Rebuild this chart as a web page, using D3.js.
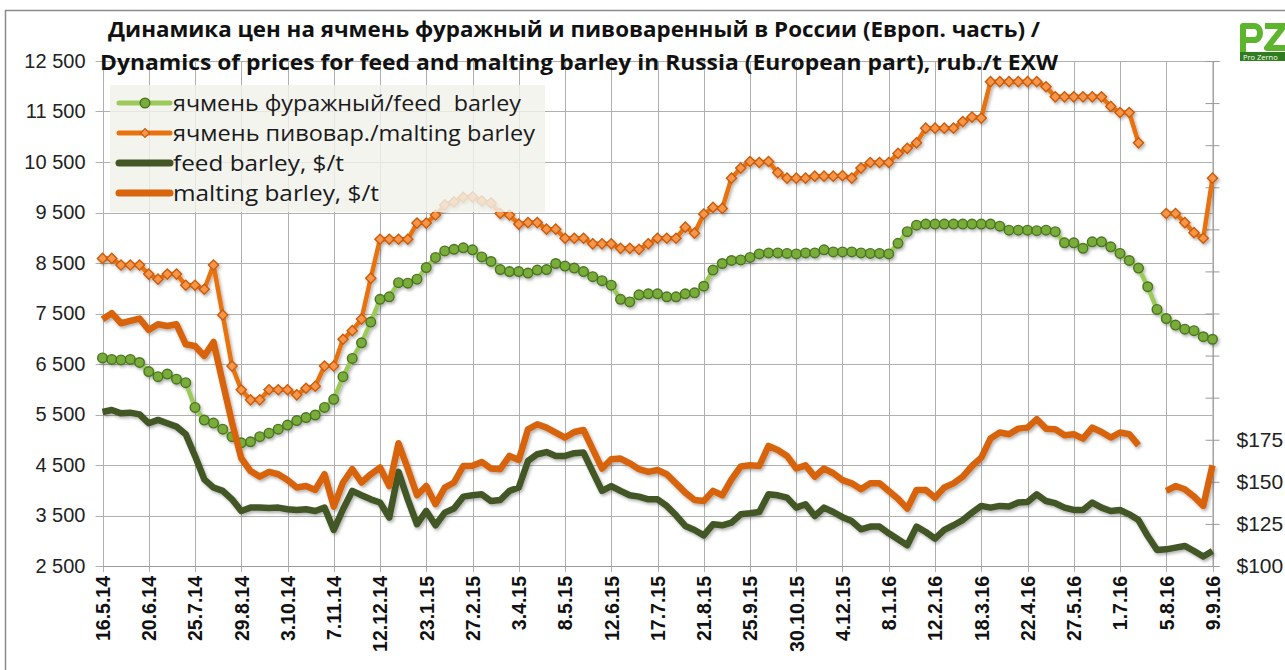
<!DOCTYPE html>
<html>
<head>
<meta charset="utf-8">
<script src="https://cdn.jsdelivr.net/npm/d3@7"></script>
<style>
  body { margin: 0; background: #fff; }
  svg { display: block; font-family: "Open Sans", sans-serif; }
</style>
</head>
<body>
<div id="chart"></div>
<script>
// x axis labels (every 5th week shown)
const tickLabels = ["16.5.14", "20.6.14", "25.7.14", "29.8.14", "3.10.14", "7.11.14", "12.12.14",
  "23.1.15", "27.2.15", "3.4.15", "8.5.15", "12.6.15", "17.7.15", "21.8.15", "25.9.15", "30.10.15",
  "4.12.15", "8.1.16", "12.2.16", "18.3.16", "22.4.16", "27.5.16", "1.7.16", "5.8.16", "9.9.16"];

// rub./t, weekly
const feedRub = [
  6620, 6590, 6580, 6590, 6530, 6350, 6250, 6300, 6200, 6130,
  5640, 5390, 5330, 5210, 5060, 4940, 4960, 5060, 5130, 5210,
  5290, 5380, 5440, 5490, 5640, 5800, 6250, 6610, 6920, 7330,
  7780, 7830, 8110, 8100, 8180, 8410, 8610, 8740, 8770, 8800,
  8760, 8620, 8530, 8370, 8330, 8330, 8300, 8360, 8370, 8490,
  8440, 8400, 8330, 8230, 8150, 8060, 7780, 7730, 7870, 7890,
  7890, 7830, 7830, 7890, 7910, 8040, 8360, 8490, 8550, 8560,
  8610, 8680, 8700, 8700, 8690, 8680, 8700, 8700, 8760, 8720,
  8720, 8720, 8700, 8690, 8690, 8680, 8890, 9120, 9250, 9270,
  9270, 9270, 9270, 9270, 9270, 9270, 9270, 9230, 9150, 9150,
  9150, 9140, 9150, 9120, 8900, 8900, 8790, 8920, 8920, 8820,
  8690, 8550, 8400, 8030, 7580, 7400, 7270, 7190, 7160, 7040, 6990];

const maltRub = [
  8590, 8590, 8460, 8460, 8460, 8280, 8180, 8280, 8280, 8060,
  8060, 7980, 8460, 7470, 6460, 5990, 5790, 5790, 5990, 5990,
  5990, 5890, 6020, 6060, 6460, 6460, 6990, 7160, 7390, 8200,
  8970, 8970, 8970, 8970, 9290, 9290, 9450, 9650, 9710, 9800,
  9810, 9730, 9690, 9480, 9450, 9270, 9300, 9300, 9170, 9170,
  8990, 8990, 8990, 8880, 8880, 8880, 8790, 8790, 8770, 8880,
  8990, 8990, 8990, 9210, 9090, 9470, 9600, 9580, 10180, 10380,
  10510, 10490, 10510, 10290, 10180, 10180, 10180, 10220, 10220, 10220,
  10230, 10180, 10380, 10490, 10490, 10490, 10670, 10770, 10880, 11170,
  11170, 11170, 11170, 11300, 11390, 11370, 12090, 12090, 12090, 12090,
  12090, 12090, 11990, 11790, 11790, 11790, 11790, 11790, 11790, 11600,
  11480, 11480, 10880, null, null, 9480, 9480, 9300, 9100, 8990, 10180];

// $/t, weekly (right axis)
const feedUsd = [
  191.5, 192.7, 190.7, 191.1, 190.1, 184.8, 186.8, 184.8, 182.8, 178.3,
  165.4, 151.5, 146.6, 144.6, 139.6, 132.7, 134.7, 134.7, 134.5, 134.7,
  133.7, 133.3, 133.7, 132.7, 134.7, 121.4, 133.7, 144.6, 142, 139.6,
  137.7, 128.8, 155.9, 139.6, 124.8, 132.7, 124.2, 131.7, 134.1, 141.2,
  142, 142.6, 138.6, 139.2, 144.6, 146.6, 162.4, 166.4, 167.7, 165.4,
  165.4, 167, 167.4, 155.9, 144.6, 147.5, 144.6, 142, 141.2, 139.6,
  139.6, 135.7, 130.1, 123.8, 121.4, 118.2, 124.8, 124.2, 125.8, 130.7,
  131.3, 132.1, 142.6, 142, 140.6, 134.7, 136.7, 129.7, 134.7, 132.1,
  129, 126.7, 121.8, 123.4, 123.4, 119.4, 115.9, 112.3, 123.4, 120.2,
  116.3, 121.4, 124.2, 127.3, 131.7, 135.7, 134.7, 135.7, 135.3, 137.7,
  138, 142.6, 138.6, 137.3, 134.7, 133.3, 133.3, 137.7, 134.7, 132.7,
  133.3, 130.7, 127.3, 117.8, 109.5, 109.9, 110.9, 111.9, 108.9, 105.6, 108.9];

const maltUsd = [
  246.6, 250.2, 244.2, 245.6, 247, 240.2, 243.6, 242.6, 243.6, 231.7,
  230.7, 224.8, 233.1, 209, 185.2, 164, 156.4, 153.1, 155.9, 154.5,
  151.1, 146.6, 147.5, 145.2, 154.5, 135.3, 149.6, 157.5, 149.6, 154.5,
  158.5, 147.5, 172.9, 157.9, 142, 147.5, 136.7, 146.6, 149.6, 159.4,
  159.5, 161.8, 157.9, 157.5, 165.4, 163, 181.2, 184.2, 182.2, 179.3,
  176.3, 179.6, 180.8, 169.3, 157.9, 163.4, 163.8, 161, 157.5, 155.9,
  157, 154.5, 149.1, 143.6, 139.2, 138.6, 144.6, 142, 151.5, 159.1,
  159.8, 159.4, 171.3, 168.9, 165.4, 157.9, 159.8, 153.1, 157.9, 155.1,
  151, 149.1, 145.6, 149.1, 149.1, 144.6, 140, 134.1, 145.2, 145.2,
  140.6, 146.6, 149.1, 153.1, 159.4, 164.4, 175.7, 179.3, 178.3, 181.6,
  182.2, 187.2, 181.6, 181.2, 177.7, 178.3, 175.7, 182.2, 179.6, 176.3,
  179.3, 178.3, 171.7, null, null, 144.6, 147.5, 145.6, 141.2, 135.7, 159.8];

const seriesNames = ["ячмень фуражный/feed  barley", "ячмень пивовар./malting barley",
  "feed barley, $/t", "malting barley, $/t"];

const width = 1285, height = 670;
const plot = { left: 102.5, right: 1212.5, top: 61, bottom: 566 };

const svg = d3.select("#chart").append("svg")
  .attr("width", width).attr("height", height);

const defs = svg.append("defs");
const shadow = defs.append("filter").attr("id", "shadow")
  .attr("x", "-10%").attr("y", "-10%").attr("width", "120%").attr("height", "130%");
shadow.append("feDropShadow").attr("dx", 1.5).attr("dy", 2).attr("stdDeviation", 1.4)
  .attr("flood-color", "#000").attr("flood-opacity", 0.3);

// outer frame of the chart
svg.append("rect").attr("x", 5.5).attr("y", 10.5).attr("width", 1400).attr("height", 800)
  .attr("fill", "none").attr("stroke", "#8a8a8a").attr("stroke-width", 1.5);

const x = d3.scaleLinear().domain([0, feedRub.length - 1]).range([plot.left, plot.right]);
const y = d3.scaleLinear().domain([2500, 12500]).range([plot.bottom, plot.top]);
const yUsd = d3.scaleLinear().domain([100, 400]).range([plot.bottom, plot.top]);

const ru = d3.formatLocale({ decimal: ",", thousands: " ", grouping: [3], currency: ["", ""] });
const rubTicks = d3.range(2500, 12501, 1000);
const weekTicks = d3.range(0, feedRub.length, 5);

// grid
const grid = svg.append("g").attr("stroke", "#b0b0b0").attr("stroke-width", 1);
grid.selectAll(".h").data(rubTicks).join("line")
  .attr("x1", plot.left - 7).attr("x2", plot.right)
  .attr("y1", d => Math.round(y(d)) + 0.5).attr("y2", d => Math.round(y(d)) + 0.5);
grid.selectAll(".v").data(weekTicks).join("line")
  .attr("x1", d => Math.round(x(d)) + 0.5).attr("x2", d => Math.round(x(d)) + 0.5)
  .attr("y1", plot.top).attr("y2", plot.bottom + 6);

// left axis labels
svg.append("g")
  .attr("transform", `translate(${plot.left},0)`)
  .call(d3.axisLeft(y).tickValues(rubTicks).tickFormat(ru.format(",")).tickSize(0).tickPadding(17))
  .call(g => g.select(".domain").remove())
  .selectAll("text").attr("font-size", 20).attr("fill", "#222")
  .attr("font-family", "'Liberation Sans', sans-serif");

// right axis ($)
svg.append("g")
  .attr("transform", `translate(${plot.right},0)`)
  .call(d3.axisRight(yUsd).tickValues(d3.range(100, 401, 25))
    .tickFormat(d => d <= 175 ? "$" + d : "").tickSize(7).tickPadding(17))
  .call(g => g.select(".domain").attr("stroke", "#9a9a9a"))
  .call(g => g.selectAll(".tick line").attr("x1", -7).attr("x2", 7).attr("stroke", "#9a9a9a"))
  .selectAll("text").attr("font-size", 21).attr("fill", "#222")
  .attr("font-family", "'Liberation Sans', sans-serif");

// bottom axis
svg.append("g")
  .attr("transform", `translate(0,${plot.bottom})`)
  .call(d3.axisBottom(x).tickValues(weekTicks).tickFormat(i => tickLabels[i / 5]).tickSize(0))
  .call(g => g.select(".domain").attr("stroke", "#9a9a9a"))
  .selectAll("text")
  .attr("font-size", 19.5).attr("font-weight", "bold").attr("fill", "#111")
  .attr("font-family", "'Liberation Sans', sans-serif")
  .attr("text-anchor", "end")
  .attr("transform", "rotate(-90)")
  .attr("x", -10).attr("y", 0).attr("dy", "0.35em");

// lines
const line = scale => d3.line()
  .defined(d => d != null)
  .x((d, i) => x(i))
  .y(d => scale(d));

const chart = svg.append("g").attr("filter", "url(#shadow)");

chart.append("path").datum(feedRub)
  .attr("fill", "none").attr("stroke", "#9bc95a").attr("stroke-width", 4.5)
  .attr("stroke-linejoin", "round").attr("d", line(y));
chart.selectAll(".feedDot").data(feedRub).join("circle")
  .attr("cx", (d, i) => x(i)).attr("cy", d => y(d)).attr("r", 4.8)
  .attr("fill", "#79ac38").attr("stroke", "#4a7423").attr("stroke-width", 1.4);

chart.append("path").datum(maltRub)
  .attr("fill", "none").attr("stroke", "#e8720e").attr("stroke-width", 4.5)
  .attr("stroke-linejoin", "round").attr("d", line(y));
chart.selectAll(".maltDot").data(maltRub.map((v, i) => [v, i]).filter(d => d[0] != null)).join("path")
  .attr("d", d3.symbol(d3.symbolSquare, 52))
  .attr("transform", d => `translate(${x(d[1])},${y(d[0])}) rotate(45)`)
  .attr("fill", "#f7954a").attr("stroke", "#c95c0b").attr("stroke-width", 1.4);

chart.append("path").datum(feedUsd)
  .attr("fill", "none").attr("stroke", "#435625").attr("stroke-width", 6.5)
  .attr("stroke-linejoin", "round").attr("d", line(yUsd));
chart.append("path").datum(maltUsd)
  .attr("fill", "none").attr("stroke", "#d8640b").attr("stroke-width", 6.5)
  .attr("stroke-linejoin", "round").attr("d", line(yUsd));

// legend
const legend = svg.append("g");
legend.append("rect").attr("x", 110).attr("y", 85).attr("width", 435).attr("height", 127)
  .attr("fill", "#f2f1ec").attr("fill-opacity", 0.82);
const legendY = [103, 133, 163, 193];
const legendW = [348, 362, 171, 206];
const legendStroke = ["#9bc95a", "#e8720e", "#435625", "#d8640b"];
seriesNames.forEach((name, k) => {
  const g = legend.append("g").attr("transform", `translate(0,${legendY[k]})`);
  g.append("line").attr("x1", 119).attr("x2", 170)
    .attr("stroke", legendStroke[k]).attr("stroke-width", k < 2 ? 5 : 7)
    .attr("stroke-linecap", "round");
  if (k === 0) {
    g.append("circle").attr("cx", 145).attr("r", 4.8)
      .attr("fill", "#79ac38").attr("stroke", "#4a7423").attr("stroke-width", 1.4);
  }
  if (k === 1) {
    g.append("path").attr("d", d3.symbol(d3.symbolSquare, 40))
      .attr("transform", "translate(145,0) rotate(45)")
      .attr("fill", "#f7954a").attr("stroke", "#c95c0b").attr("stroke-width", 1.2);
  }
  g.append("text").attr("x", 173).attr("dy", "0.36em")
    .attr("font-size", 22.5).attr("fill", "#1a1a1a").style("white-space", "pre")
    .attr("textLength", legendW[k]).attr("lengthAdjust", "spacingAndGlyphs")
    .text(name);
});

// title
const title = svg.append("g").attr("font-weight", "bold").attr("font-size", 21)
  .attr("fill", "#111").attr("text-anchor", "middle");
title.append("text").attr("x", 574).attr("y", 37)
  .attr("textLength", 932).attr("lengthAdjust", "spacingAndGlyphs")
  .text("Динамика цен на ячмень фуражный и пивоваренный в России (Европ. часть) /");
title.append("text").attr("x", 579).attr("y", 70)
  .attr("textLength", 958).attr("lengthAdjust", "spacingAndGlyphs")
  .text("Dynamics of prices for feed and malting barley in Russia (European part), rub./t EXW");

// logo: drawn letters "PZ" plus small caption bar
const logo = svg.append("g").attr("transform", "translate(1238,18)");
logo.append("path")
  .attr("d", "M5,34 L5,8 L16,8 C24,8 24,22 16,22 L5,22")
  .attr("fill", "none").attr("stroke", "#5cb52d").attr("stroke-width", 6)
  .attr("stroke-linejoin", "round");
logo.append("path")
  .attr("d", "M27,8 L46,8 L29,30 L47,30")
  .attr("fill", "none").attr("stroke", "#5cb52d").attr("stroke-width", 6)
  .attr("stroke-linejoin", "round");
logo.append("rect").attr("x", 2).attr("y", 34).attr("width", 48).attr("height", 9).attr("fill", "#2f7d1e");
logo.append("text").attr("x", 5).attr("y", 41.5).attr("font-size", 7.5).attr("fill", "#fff")
  .text("Pro Zerno");
</script>
</body>
</html>
